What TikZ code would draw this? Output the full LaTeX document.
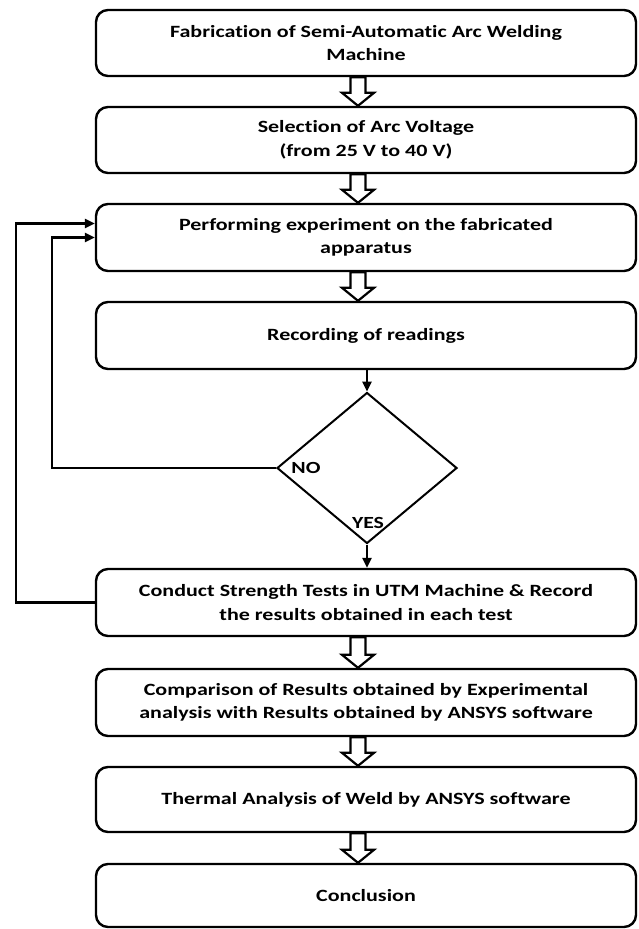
\documentclass[tikz,border=0pt]{standalone}
\usepackage{fontspec}
\setmainfont{Carlito}[Ligatures=NoCommon, BoldFont={* Bold}, BoldFeatures={FakeStretch=1.28}]
\usetikzlibrary{shapes.geometric,arrows.meta,calc}

% step boxes of the flow
\tikzset{
  stepbox/.style={draw, line width=2.4pt, rounded corners=12pt,
    minimum width=540pt, inner sep=0pt, align=center,
    font=\fontsize{17.2}{23.5}\selectfont\bfseries},
  decbox/.style={draw, diamond, line width=2pt, inner sep=0pt,
    minimum width=180pt, minimum height=151pt},
  flowline/.style={line width=2.4pt},
  arr/.style={flowline, -{Triangle[length=10pt,width=9pt]}},
  hollowarr/.style={draw, line width=2.2pt, fill=white, line join=miter},
  lbl/.style={font=\fontsize{17}{18}\selectfont\bfseries, inner sep=0pt}
}

% hollow downward arrow between two step boxes
\newcommand\hollowdown[2]{%
  \path let \p1=(#1.south), \p2=(#2.north) in
    [hollowarr] (\x1-15.5pt,\y1) -- (\x1-0.5pt,\y1) -- (\x1-0.5pt,\y2+13pt)
    -- (\x1+8pt,\y2+13pt) -- (\x1-8pt,\y2) -- (\x1-24pt,\y2+13pt)
    -- (\x1-15.5pt,\y2+13pt) -- cycle;}

\begin{document}
\begin{tikzpicture}[x=1pt,y=1pt]
\useasboundingbox (0,0) rectangle (638,-929);

\node[stepbox, minimum height=66pt] (b1) at (366,-43)
  {Fabrication of Semi-Automatic Arc Welding\\Machine};
\node[stepbox, minimum height=66pt] (b2) at (366,-140)
  {Selection of Arc Voltage\\(from 25 V to 40 V)};
\node[stepbox, minimum height=67pt] (b3) at (366,-237.5)
  {Performing experiment on the fabricated\\apparatus};
\node[stepbox, minimum height=67pt] (b4) at (366,-335.5)
  {Recording of readings};
\node[decbox] (dec) at (367,-468) {};
\node[stepbox, minimum height=67pt] (b5) at (366,-602.5)
  {Conduct Strength Tests in UTM Machine \& Record\\the results obtained in each test};
\node[stepbox, minimum height=67pt] (b6) at (366,-702.5)
  {Comparison of Results obtained by Experimental\\analysis with Results obtained by ANSYS software};
\node[stepbox, minimum height=65pt] (b7) at (366,-799.5)
  {Thermal Analysis of Weld by ANSYS software};
\node[stepbox, minimum height=63pt] (b8) at (366,-895.5)
  {Conclusion};

\node[lbl] (lblno) at (306,-468) {NO};
\node[lbl] (lblyes) at (368,-523) {YES};

% hollow arrows between consecutive steps
\hollowdown{b1}{b2}
\hollowdown{b2}{b3}
\hollowdown{b3}{b4}
\hollowdown{b5}{b6}
\hollowdown{b6}{b7}
\hollowdown{b7}{b8}

% decision connectors
\draw[arr] (b4.south -| dec.north) -- (dec.north);
\draw[arr] (dec.south) -- (dec.south |- b5.north);
\draw[arr] (dec.west) -- ++(-224,0) |- (b3.west);
\draw[arr] (b5.west) -- ++(-79,0) |- ($(b3.west)+(0,14)$);
\end{tikzpicture}
\end{document}
